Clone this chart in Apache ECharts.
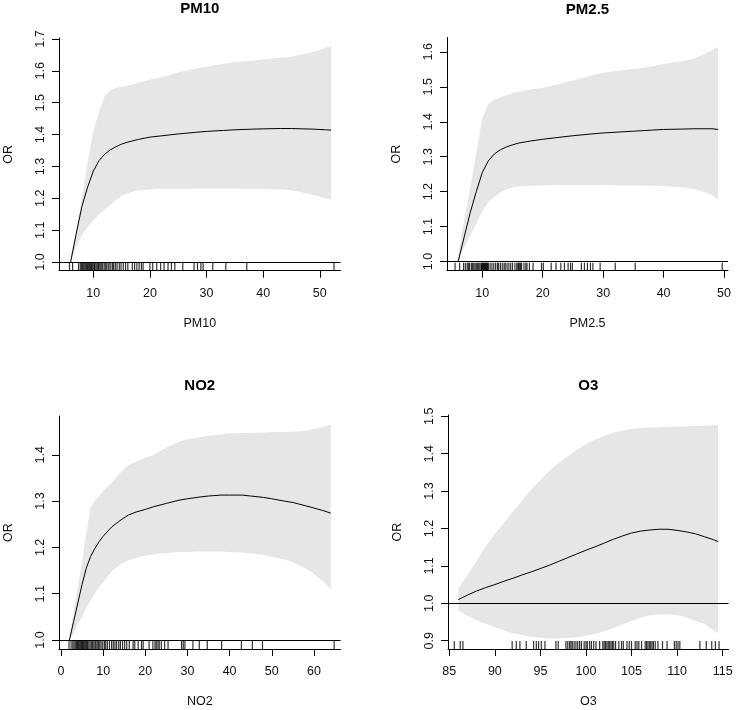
<!DOCTYPE html>
<html><head><meta charset="utf-8">
<script src="https://cdn.jsdelivr.net/npm/echarts@6/dist/echarts.min.js"></script>
<style>html,body{margin:0;padding:0;background:#fff}#c{width:736px;height:710px}</style>
</head><body><div id="c"></div>
<script>
// ---------- PM10 ----------
const pm10X   = [6,7,8,9,10,11,12,13,14,15,16,18,20,22,25,28,30,33,35,38,40,43,45,47,49,51,52];
const pm10Fit = [1.0,1.09,1.175,1.235,1.285,1.318,1.338,1.352,1.362,1.37,1.376,1.385,1.392,1.396,1.402,1.407,1.41,1.413,1.415,1.417,1.418,1.419,1.419,1.418,1.417,1.415,1.414];
const pm10Lo  = [1.0,1.05,1.085,1.11,1.13,1.15,1.165,1.18,1.195,1.207,1.215,1.225,1.228,1.23,1.23,1.231,1.231,1.231,1.231,1.23,1.23,1.228,1.225,1.218,1.21,1.2,1.195];
const pm10Hi  = [1.02,1.1,1.2,1.31,1.41,1.47,1.52,1.538,1.545,1.55,1.553,1.563,1.572,1.58,1.595,1.607,1.613,1.622,1.627,1.632,1.636,1.641,1.644,1.652,1.66,1.672,1.678];
const pm10Rug = [5.8,6.35,7.4,7.7,7.9,8.1,8.3,8.5,8.7,8.8,9.0,9.2,9.3,9.5,9.7,9.8,10.0,10.2,10.3,10.5,10.7,10.9,11.0,11.2,11.4,11.6,11.9,12.1,12.3,12.6,12.8,13.1,13.4,13.6,13.9,14.2,14.6,14.9,15.3,15.7,16.1,16.9,17.3,17.7,18.1,18.5,18.8,20.0,20.5,21.2,21.9,22.5,23.2,23.8,24.4,25.8,27.8,28.4,29.0,29.4,31.1,33.4,37.1,52.5];
const pm10XTicks = [10,20,30,40,50];
const pm10YTicks = [1.0,1.1,1.2,1.3,1.4,1.5,1.6,1.7];

// ---------- PM2.5 ----------
const pm25X   = [6,7,8,9,10,11,12,13,14,15,16,18,20,22,25,28,30,33,35,38,40,43,45,47,48,49];
const pm25Fit = [1.0,1.07,1.14,1.2,1.255,1.288,1.308,1.32,1.328,1.334,1.339,1.345,1.35,1.354,1.36,1.365,1.368,1.371,1.373,1.376,1.378,1.379,1.38,1.38,1.38,1.378];
const pm25Lo  = [1.0,1.04,1.075,1.11,1.145,1.17,1.186,1.198,1.207,1.212,1.215,1.217,1.218,1.219,1.219,1.219,1.219,1.218,1.218,1.217,1.216,1.213,1.208,1.198,1.19,1.178];
const pm25Hi  = [1.02,1.12,1.21,1.31,1.41,1.45,1.463,1.47,1.476,1.482,1.486,1.492,1.497,1.505,1.518,1.532,1.54,1.547,1.551,1.558,1.565,1.573,1.58,1.595,1.605,1.614];
const pm25Rug = [5.5,6.25,6.9,7.2,7.5,7.7,7.9,8.2,8.4,8.6,8.8,9.0,9.2,9.4,9.6,9.8,9.9,10.0,10.1,10.2,10.3,10.4,10.5,10.6,10.7,10.8,10.9,11.0,11.3,11.6,11.9,12.2,12.5,12.7,13.0,13.3,13.6,13.8,14.1,14.4,14.7,15.0,15.4,15.7,15.9,16.0,16.2,16.3,16.5,16.9,17.2,17.4,17.8,18.4,19.8,20.1,21.4,22.2,23.0,23.6,24.2,24.6,24.9,26.4,26.9,27.4,27.9,28.3,29.5,32.0,35.3,49.7];
const pm25XTicks = [10,20,30,40,50];
const pm25YTicks = [1.0,1.1,1.2,1.3,1.4,1.5,1.6];

// ---------- NO2 ----------
const no2X   = [2,3,4,5,6,7,8,9,10,12,14,16,18,20,22,25,28,30,33,35,38,40,43,45,48,50,53,55,58,60,62,64];
const no2Fit = [1.0,1.04,1.08,1.12,1.155,1.18,1.197,1.212,1.224,1.244,1.258,1.27,1.277,1.282,1.288,1.295,1.302,1.305,1.309,1.311,1.313,1.313,1.313,1.311,1.308,1.305,1.3,1.297,1.29,1.285,1.28,1.274];
const no2Lo  = [1.0,1.015,1.035,1.05,1.07,1.085,1.1,1.115,1.125,1.148,1.163,1.172,1.178,1.182,1.185,1.188,1.19,1.19,1.191,1.191,1.191,1.19,1.189,1.187,1.184,1.18,1.174,1.168,1.155,1.143,1.128,1.11];
const no2Hi  = [1.005,1.06,1.115,1.17,1.23,1.285,1.3,1.31,1.322,1.34,1.36,1.378,1.386,1.393,1.4,1.416,1.428,1.434,1.438,1.441,1.444,1.446,1.447,1.447,1.448,1.449,1.449,1.45,1.452,1.455,1.46,1.465];
const no2Rug = [1.9,2.4,2.8,3.1,3.4,3.7,3.9,4.1,4.3,4.5,4.7,4.9,5.1,5.3,5.5,5.7,5.9,6.1,6.3,6.6,6.9,7.2,7.5,7.8,8.1,8.3,8.6,8.9,9.2,9.5,9.9,10.3,10.6,11.0,11.5,12.0,12.4,12.8,13.2,13.7,14.1,14.6,15.1,15.6,16.2,17.1,17.5,18.3,19.1,19.5,20.9,21.8,22.3,22.6,23.0,23.3,23.8,24.6,25.4,28.6,29.0,29.4,31.3,32.8,34.7,38.1,42.8,45.4,47.8,64.8];
const no2XTicks = [0,10,20,30,40,50,60];
const no2YTicks = [1.0,1.1,1.2,1.3,1.4];

// ---------- O3 ----------
const o3X   = [86,87,88,89,90,91,92,93,94,95,96,97,98,99,100,101,102,103,104,105,106,107,108,109,110,111,112,113,114,114.5];
const o3Fit = [1.01,1.022,1.033,1.042,1.05,1.059,1.067,1.076,1.084,1.093,1.102,1.112,1.122,1.132,1.142,1.151,1.161,1.171,1.18,1.188,1.193,1.196,1.198,1.198,1.195,1.191,1.186,1.178,1.17,1.165];
const o3Lo  = [0.98,0.967,0.955,0.945,0.936,0.928,0.92,0.915,0.91,0.908,0.906,0.906,0.907,0.909,0.913,0.918,0.925,0.933,0.943,0.953,0.962,0.968,0.971,0.971,0.968,0.962,0.953,0.945,0.928,0.92];
const o3Hi  = [1.04,1.075,1.113,1.152,1.185,1.215,1.245,1.275,1.305,1.33,1.355,1.375,1.393,1.41,1.425,1.438,1.448,1.456,1.462,1.466,1.469,1.47,1.471,1.472,1.472,1.473,1.474,1.475,1.476,1.477];
const o3Rug = [85.55,86.2,86.5,91.9,92.35,92.75,93.45,94.25,94.55,94.8,95.1,95.5,96.7,96.95,97.8,98.0,98.2,98.35,98.5,98.7,98.9,99.1,99.3,99.5,99.8,100.0,100.15,100.4,100.6,100.85,101.1,101.5,101.85,102.0,102.15,102.3,102.45,102.6,102.75,102.9,103.05,103.25,103.6,103.9,104.1,104.5,104.75,105.0,105.4,105.6,105.8,106.1,106.5,106.65,106.8,106.95,107.1,107.25,107.4,107.6,107.9,108.4,108.9,109.7,109.9,110.1,110.3,112.5,113.2,113.8,114.2,114.6];
const o3XTicks = [85,90,95,100,105,110,115];
const o3YTicks = [0.9,1.0,1.1,1.2,1.3,1.4,1.5];

const refValue = 1;

const panels = [
  {title:'PM10', xName:'PM10', x:pm10X, fit:pm10Fit, lo:pm10Lo, hi:pm10Hi, rug:pm10Rug, xTicks:pm10XTicks, yTicks:pm10YTicks,
   xMin:3.95, xMax:53.65, yMin:0.973, yMax:1.703, grid:{left:59, top:38, width:281.5, height:232.7}, titleTop:1},
  {title:'PM2.5', xName:'PM2.5', x:pm25X, fit:pm25Fit, lo:pm25Lo, hi:pm25Hi, rug:pm25Rug, xTicks:pm25XTicks, yTicks:pm25YTicks,
   xMin:4.16, xMax:50.66, yMin:0.974, yMax:1.641, grid:{left:447, top:37.5, width:281, height:233.2}, titleTop:2},
  {title:'NO2', xName:'NO2', x:no2X, fit:no2Fit, lo:no2Lo, hi:no2Hi, rug:no2Rug, xTicks:no2XTicks, yTicks:no2YTicks,
   xMin:-0.47, xMax:66.3, yMin:0.9806, yMax:1.4838, grid:{left:59, top:416, width:281.5, height:233}, titleTop:378},
  {title:'O3', xName:'O3', x:o3X, fit:o3Fit, lo:o3Lo, hi:o3Hi, rug:o3Rug, xTicks:o3XTicks, yTicks:o3YTicks,
   xMin:84.86, xMax:115.64, yMin:0.8778, yMax:1.5035, grid:{left:448, top:415, width:280.5, height:234}, titleTop:378}
];

const FONT = 'Liberation Sans, Arial, sans-serif';
const grids = [], xAxes = [], yAxes = [], series = [], titles = [];

panels.forEach((p, i) => {
  grids.push(Object.assign({containLabel:false, outerBoundsMode:'none'}, p.grid));
  titles.push({
    text: p.title, left: p.grid.left + p.grid.width / 2, top: p.titleTop, textAlign: 'center', padding: 0,
    textStyle: {fontSize: 15, fontWeight: 'bold', color: '#000', fontFamily: FONT}
  });
  xAxes.push({
    type:'value', gridIndex:i, min:p.xMin, max:p.xMax,
    name:p.xName, nameLocation:'middle', nameGap:46,
    nameTextStyle:{fontSize:12.5, color:'#111', fontFamily:FONT},
    axisLine:{show:true, onZero:false, lineStyle:{color:'#000', width:1}},
    axisTick:{show:true, length:7, customValues:p.xTicks, lineStyle:{color:'#000', width:1}},
    axisLabel:{show:true, customValues:p.xTicks, margin:16, fontSize:12.5, color:'#111', fontFamily:FONT,
               formatter: v => String(Math.round(v))},
    splitLine:{show:false}
  });
  yAxes.push({
    type:'value', gridIndex:i, min:p.yMin, max:p.yMax,
    name:'OR', nameLocation:'middle', nameGap:44,
    nameTextStyle:{fontSize:12.5, color:'#111', fontFamily:FONT},
    axisLine:{show:true, onZero:false, lineStyle:{color:'#000', width:1}},
    axisTick:{show:true, length:7, customValues:p.yTicks, lineStyle:{color:'#000', width:1}},
    axisLabel:{show:true, customValues:p.yTicks, rotate:90, margin:12, fontSize:12.5, color:'#111', fontFamily:FONT,
               formatter: v => Number(v).toFixed(1)},
    splitLine:{show:false}
  });
  // confidence band
  series.push({
    type:'custom', xAxisIndex:i, yAxisIndex:i, silent:true, z:1,
    data: p.x.map((x, k) => [x, p.lo[k], p.hi[k]]),
    encode:{x:0, y:[1,2]},
    renderItem: (params, api) => {
      if (params.dataIndex !== 0) return null;
      const pts = [];
      for (let k = 0; k < p.x.length; k++) pts.push(api.coord([p.x[k], p.hi[k]]));
      for (let k = p.x.length - 1; k >= 0; k--) pts.push(api.coord([p.x[k], p.lo[k]]));
      return {type:'polygon', shape:{points:pts}, style:{fill:'#e6e6e6', stroke:null}};
    }
  });
  // fitted curve + reference line
  series.push({
    type:'line', xAxisIndex:i, yAxisIndex:i, silent:true, z:3,
    data: p.x.map((x, k) => [x, p.fit[k]]),
    showSymbol:false, smooth:false,
    lineStyle:{color:'#000', width:1},
    markLine:{silent:true, symbol:'none', label:{show:false},
              lineStyle:{color:'#000', width:1, type:'solid'},
              data:[{yAxis:refValue}]}
  });
  // rug
  series.push({
    type:'scatter', xAxisIndex:i, yAxisIndex:i, silent:true, z:4, clip:false,
    data: p.rug.map(v => [v, p.yMin]),
    symbol:'rect', symbolSize:[1.2, 8], symbolOffset:[0, -4],
    itemStyle:{color:'#000'}
  });
});

const chart = echarts.init(document.getElementById('c'), null, {renderer:'canvas'});
chart.setOption({
  backgroundColor:'#ffffff',
  animation:false,
  title: titles,
  grid: grids,
  xAxis: xAxes,
  yAxis: yAxes,
  series: series
});
</script>
</body></html>
